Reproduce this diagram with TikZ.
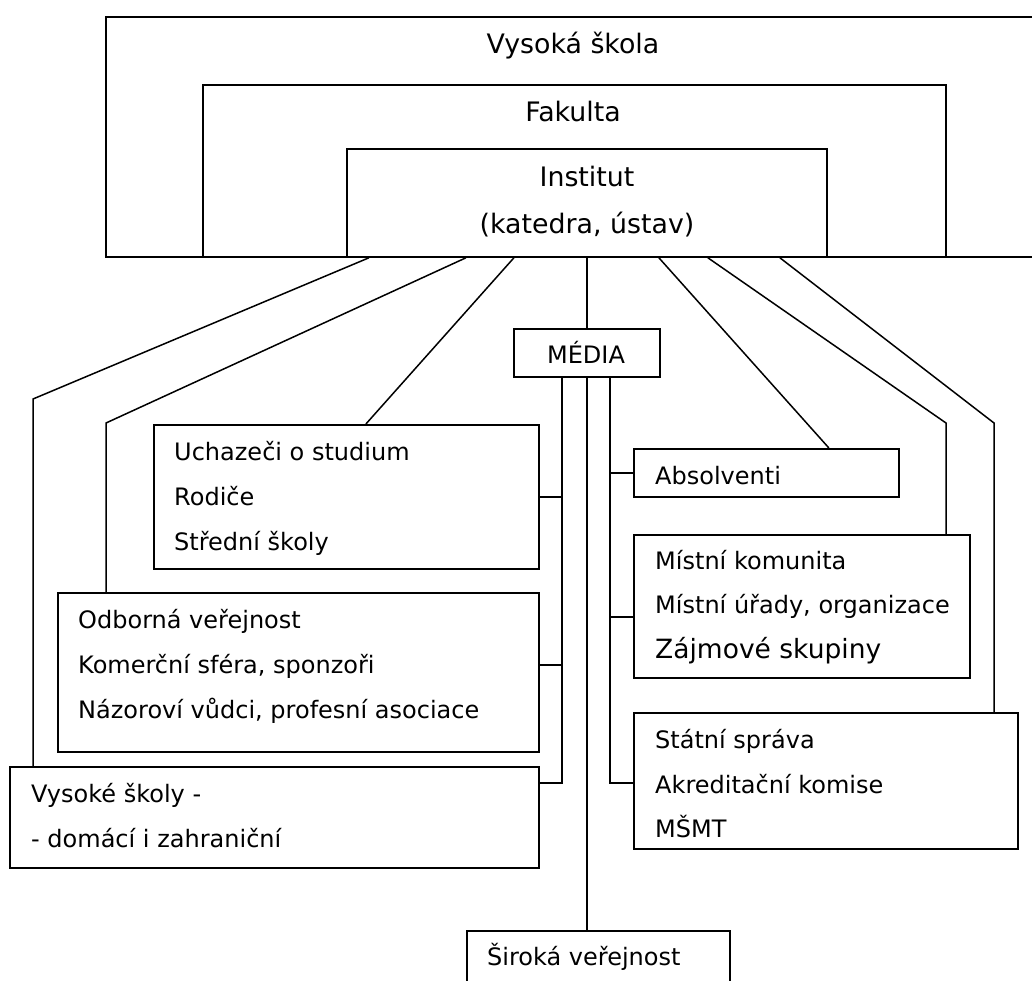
\documentclass[tikz,border=0pt]{standalone}
\usepackage{fontspec}
\setmainfont{DejaVu Sans}
\begin{document}
\begin{tikzpicture}[x=1pt,y=-1pt,
  frame/.style={draw, line width=1.8pt, inner sep=0pt, anchor=north west},
  conn/.style={draw, line width=1.5pt},
  lbl/.style={anchor=base west, inner sep=0pt, font=\fontsize{24}{28}\selectfont},
  clbl/.style={anchor=base, inner sep=0pt, font=\fontsize{24}{28}\selectfont},
  biglbl/.style={font=\fontsize{26.8}{31}\selectfont}]
\clip (0,0) rectangle (1032,980);
% boxes
\node[frame, minimum width=935pt, minimum height=240pt] (vs) at (105,16) {};
\node[frame, minimum width=743pt, minimum height=172pt] (fak) at (202,84) {};
\node[frame, minimum width=480pt, minimum height=108pt] (ins) at (346,148) {};
\node[frame, minimum width=146pt, minimum height=48pt] (med) at (513,328) {};
\node[frame, minimum width=385pt, minimum height=144pt] (uch) at (153,424) {};
\node[frame, minimum width=481pt, minimum height=159pt] (odb) at (57,592) {};
\node[frame, minimum width=529pt, minimum height=101pt] (vys) at (9,766) {};
\node[frame, minimum width=265pt, minimum height=48pt] (abs) at (633,448) {};
\node[frame, minimum width=336pt, minimum height=143pt] (mis) at (633,534) {};
\node[frame, minimum width=384pt, minimum height=136pt] (sta) at (633,712) {};
\node[frame, minimum width=263pt, minimum height=70pt] (sir) at (466,930) {};
% texts
\node[clbl, biglbl] (tvs) at (573,53) {Vysoká škola};
\node[clbl, biglbl] (tfak) at (573,121) {Fakulta};
\node[clbl, biglbl] (tins1) at (587,186) {Institut};
\node[clbl, biglbl] (tins2) at (587,233) {(katedra, ústav)};
\node[clbl] (tmed) at (586,363) {MÉDIA};
\node[lbl] (tuch1) at (174,460) {Uchazeči o studium};
\node[lbl] (tuch2) at (174,505) {Rodiče};
\node[lbl] (tuch3) at (174,550) {Střední školy};
\node[lbl] (todb1) at (78,628) {Odborná veřejnost};
\node[lbl] (todb2) at (78,673) {Komerční sféra, sponzoři};
\node[lbl] (todb3) at (78,718) {Názoroví vůdci, profesní asociace};
\node[lbl] (tvys1) at (31,802) {Vysoké školy -};
\node[lbl] (tvys2) at (31,847) {- domácí i zahraniční};
\node[lbl] (tabs) at (655,484) {Absolventi};
\node[lbl] (tmis1) at (655,569) {Místní komunita};
\node[lbl] (tmis2) at (655,613) {Místní úřady, organizace};
\node[lbl, font=\fontsize{26.5}{31}\selectfont] (tmis3) at (655,658) {Zájmové skupiny};
\node[lbl] (tsta1) at (655,748) {Státní správa};
\node[lbl] (tsta2) at (655,793) {Akreditační komise};
\node[lbl] (tsta3) at (655,837) {MŠMT};
\node[lbl] (tsir) at (487,965) {Široká veřejnost};
% bend points
\coordinate (b1) at (33,399);
\coordinate (b2) at (106,423);
\coordinate (b6) at (946,423);
\coordinate (b7) at (994,423);
\coordinate (tL) at (562,783);
\coordinate (tR) at (610,783);
% connectors from Institut
\draw[conn] ([xshift=-218pt]ins.south) -- (b1) -- (b1 |- vys.north);
\draw[conn] ([xshift=-121pt]ins.south) -- (b2) -- (b2 |- odb.north);
\draw[conn] ([xshift=-73pt]ins.south) -- ([xshift=19.5pt]uch.north);
\draw[conn] (ins.south) -- (ins.south |- med.north);
\draw[conn] ([xshift=72pt]ins.south) -- ([xshift=62.5pt]abs.north);
\draw[conn] ([xshift=121pt]ins.south) -- (b6) -- (b6 |- mis.north);
\draw[conn] ([xshift=193pt]ins.south) -- (b7) -- (b7 |- sta.north);
% connectors from MEDIA
\draw[conn] (tL |- med.south) -- (tL) -- (tL -| vys.east);
\draw[conn] (uch.east) -- (uch.east -| tL);
\draw[conn] ([yshift=7.5pt]odb.east) -- ([yshift=7.5pt]odb.east -| tL);
\draw[conn] (med.south) -- (med.south |- sir.north);
\draw[conn] (tR |- med.south) -- (tR) -- (tR -| sta.west);
\draw[conn] (abs.west) -- (abs.west -| tR);
\draw[conn] ([yshift=-10.5pt]mis.west) -- ([yshift=-10.5pt]mis.west -| tR);
\end{tikzpicture}
\end{document}
